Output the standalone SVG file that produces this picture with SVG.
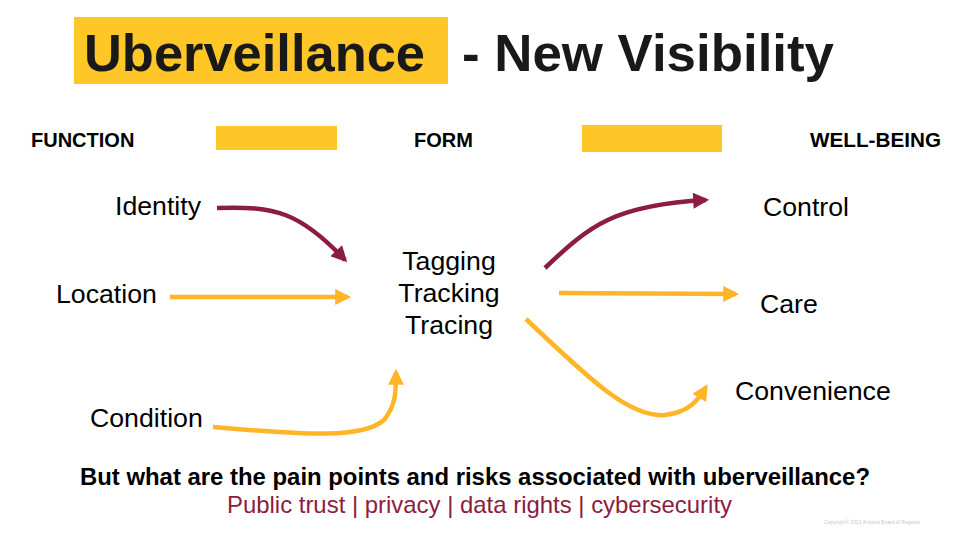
<svg xmlns="http://www.w3.org/2000/svg" width="960" height="540" viewBox="0 0 960 540">
<defs>
<style>
.hd{font-family:"Liberation Sans",Arial,sans-serif;font-weight:bold;font-size:20px;fill:#000}
.lb{font-family:"Liberation Sans",Arial,sans-serif;font-size:26.7px;fill:#000}
.m{fill:none;stroke:#8C1D40;stroke-width:4.5}
.y{fill:none;stroke:#FFB526;stroke-width:4.5}
</style>
<marker id="am" viewBox="0 0 10 10" refX="8" refY="5" markerWidth="18" markerHeight="16" markerUnits="userSpaceOnUse" orient="auto"><path d="M0,0 L10,5 L0,10 z" fill="#8C1D40"/></marker>
<marker id="ay" viewBox="0 0 10 10" refX="8" refY="5" markerWidth="18" markerHeight="16" markerUnits="userSpaceOnUse" orient="auto"><path d="M0,0 L10,5 L0,10 z" fill="#FFB526"/></marker>
</defs>
<rect width="960" height="540" fill="#fff"/>
<g id="title">
<rect x="74" y="17" width="374" height="67" fill="#FFC627"/>
<text x="84" y="71" font-family="'Liberation Sans',Arial,sans-serif" font-weight="bold" font-size="52.5" fill="#191919" textLength="341" lengthAdjust="spacingAndGlyphs">Uberveillance</text>
<text x="462" y="71" font-family="'Liberation Sans',Arial,sans-serif" font-weight="bold" font-size="52.5" fill="#191919" textLength="372" lengthAdjust="spacingAndGlyphs">- New Visibility</text>
</g>
<g id="headers">
<text class="hd" x="31" y="147">FUNCTION</text>
<rect x="216" y="126" width="121" height="24" fill="#FFC627"/>
<text class="hd" x="414" y="147">FORM</text>
<rect x="582" y="125" width="140" height="27" fill="#FFC627"/>
<text class="hd" x="810" y="147" textLength="131" lengthAdjust="spacingAndGlyphs">WELL-BEING</text>
</g>
<g id="identity"><text class="lb" x="115" y="215">Identity</text></g>
<g id="location"><text class="lb" x="56" y="303">Location</text></g>
<g id="condition"><text class="lb" x="90" y="427">Condition</text></g>
<g id="form"><text class="lb" text-anchor="middle" x="449" y="270">Tagging</text><text class="lb" text-anchor="middle" x="449" y="302">Tracking</text><text class="lb" text-anchor="middle" x="449" y="334">Tracing</text></g>
<g id="control"><text class="lb" x="763" y="216">Control</text></g>
<g id="care"><text class="lb" x="760" y="313">Care</text></g>
<g id="convenience"><text class="lb" x="735" y="400">Convenience</text></g>
<g id="connectors">
<path class="m" d="M217,208 C275,206 300,212 345,260" marker-end="url(#am)"/>
<path class="y" d="M170,297 L348,297" marker-end="url(#ay)"/>
<path class="y" d="M213,427 C290,433 360,441 384,420 C396,405 396,392 396,372" marker-end="url(#ay)"/>
<path class="m" d="M545,268 C590,225 615,205 706,200" marker-end="url(#am)"/>
<path class="y" d="M559,293 L736,294" marker-end="url(#ay)"/>
<path class="y" d="M526,319 C590,380 630,418 665,415 C690,412 698,400 706,387" marker-end="url(#ay)"/>
</g>
<g id="footer">
<text x="80" y="485" font-family="'Liberation Sans',Arial,sans-serif" font-weight="bold" font-size="23" fill="#000" textLength="790" lengthAdjust="spacingAndGlyphs">But what are the pain points and risks associated with uberveillance?</text>
<text x="227" y="513" font-family="'Liberation Sans',Arial,sans-serif" font-size="24" fill="#8C1D40" textLength="505" lengthAdjust="spacingAndGlyphs">Public trust | privacy | data rights | cybersecurity</text>
<text x="872" y="524" text-anchor="middle" font-family="'Liberation Sans',Arial,sans-serif" font-size="5" fill="#c8c8c8">Copyright© 2021 Arizona Board of Regents</text>
</g>
</svg>
